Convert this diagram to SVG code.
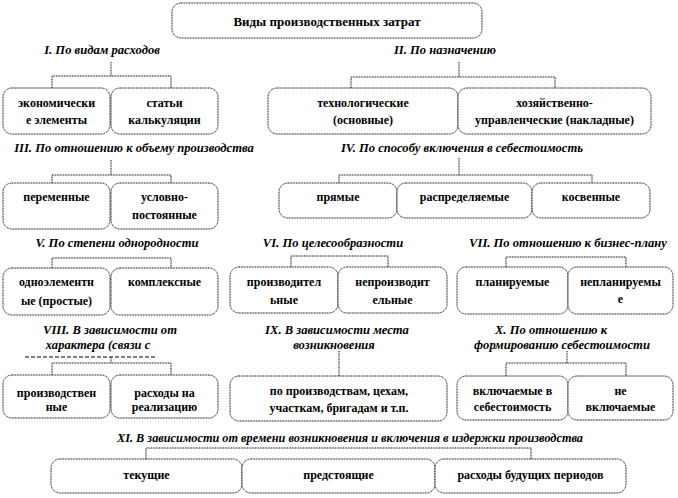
<svg xmlns="http://www.w3.org/2000/svg" width="678" height="498" viewBox="0 0 678 498">
<style>
.b{fill:#fff;stroke:#111;stroke-width:1;stroke-dasharray:1 0.6}
.c{fill:none;stroke:#111;stroke-width:1;stroke-dasharray:1 0.6}
.t{font-family:'Liberation Serif','DejaVu Serif','Times New Roman',serif;font-weight:700;font-size:12px;fill:#000;text-anchor:middle}
.h{font-family:'Liberation Serif','DejaVu Serif','Times New Roman',serif;font-weight:700;font-style:italic;font-size:12.6px;fill:#000;text-anchor:middle}
</style>
<rect width="678" height="498" fill="#fff"/>
<g id="connectors">
<path class="c" d="M111,62V76M52,88V76H171V88"/>
<path class="c" d="M459,62V77M351,88V77H555V88"/>
<path class="c" d="M111,160V175M52,183V175H171V183"/>
<path class="c" d="M459,158V175M339,183V175H592V183"/>
<path class="c" d="M52,268V258H171V268"/>
<path class="c" d="M291,267V256H388V267"/>
<path class="c" d="M506,267V257H626V267"/>
<path class="c" d="M111,357V363M52,375V363H171V375"/>
<path class="c" d="M339,351V376"/>
<path class="c" d="M567,351V363M506,376V363H626V376"/>
<path class="c" d="M146,459V448H531V459"/>
</g>
<g id="title"><rect class="b" x="172" y="3" width="310" height="35" rx="9"/><text class="t" x="327" y="26" style="font-size:13px">Виды производственных  затрат</text></g>
<g id="h1"><text class="h" x="102" y="54">I. По видам расходов</text></g>
<g id="h2"><text class="h" x="445" y="54">II. По назначению</text></g>
<g id="n1"><rect class="b" x="3" y="88" width="107" height="46" rx="9"/><text class="t" x="56.5" y="107">экономически</text><text class="t" x="56.5" y="124">е элементы</text></g>
<g id="n2"><rect class="b" x="111" y="88" width="107" height="46" rx="9"/><text class="t" x="164.5" y="107">статьи</text><text class="t" x="164.5" y="124">калькуляции</text></g>
<g id="n3"><rect class="b" x="268" y="88" width="190" height="46" rx="9"/><text class="t" x="363" y="107">технологические</text><text class="t" x="363" y="124">(основные)</text></g>
<g id="n4"><rect class="b" x="458" y="88" width="193" height="46" rx="9"/><text class="t" x="554.5" y="107">хозяйственно-</text><text class="t" x="554.5" y="124">управленческие (накладные)</text></g>
<g id="h3"><text class="h" x="134" y="152">III. По отношению к объему производства</text></g>
<g id="h4"><text class="h" x="462" y="152">IV. По способу включения в себестоимость</text></g>
<g id="n5"><rect class="b" x="3" y="183" width="107" height="46" rx="9"/><text class="t" x="56.5" y="201">переменные</text></g>
<g id="n6"><rect class="b" x="111" y="183" width="107" height="46" rx="9"/><text class="t" x="164.5" y="201">условно-</text><text class="t" x="164.5" y="219">постоянные</text></g>
<g id="n7"><rect class="b" x="279" y="183" width="118" height="35" rx="9"/><text class="t" x="338" y="201">прямые</text></g>
<g id="n8"><rect class="b" x="397" y="183" width="135" height="35" rx="9"/><text class="t" x="464.5" y="201">распределяемые</text></g>
<g id="n9"><rect class="b" x="532" y="183" width="118" height="35" rx="9"/><text class="t" x="591" y="201">косвенные</text></g>
<g id="h5"><text class="h" x="117" y="247">V. По степени однородности</text></g>
<g id="h6"><text class="h" x="333" y="247">VI. По целесообразности</text></g>
<g id="h7"><text class="h" x="568" y="247">VII. По отношению к бизнес-плану</text></g>
<g id="n10"><rect class="b" x="3" y="268" width="107" height="47" rx="9"/><text class="t" x="56.5" y="286">одноэлементн</text><text class="t" x="56.5" y="305">ые (простые)</text></g>
<g id="n11"><rect class="b" x="111" y="268" width="107" height="47" rx="9"/><text class="t" x="164.5" y="286">комплексные</text></g>
<g id="n12"><rect class="b" x="230" y="267" width="108" height="46" rx="9"/><text class="t" x="284" y="286">производител</text><text class="t" x="284" y="304">ьные</text></g>
<g id="n13"><rect class="b" x="338" y="267" width="109" height="46" rx="9"/><text class="t" x="392.5" y="286">непроизводит</text><text class="t" x="392.5" y="304">ельные</text></g>
<g id="n14"><rect class="b" x="457" y="267" width="111" height="47" rx="9"/><text class="t" x="512.5" y="286">планируемые</text></g>
<g id="n15"><rect class="b" x="568" y="267" width="105" height="47" rx="9"/><text class="t" x="620.5" y="286">непланируемы</text><text class="t" x="620.5" y="303">е</text></g>
<g id="h8"><text class="h" x="110" y="334">VIII. В зависимости от</text><text class="h" x="98" y="349">характера (связи с</text><path d="M25,357H157" fill="none" stroke="#000" stroke-width="1" stroke-dasharray="4 2"/></g>
<g id="h9"><text class="h" x="337" y="334">IX. В зависимости места</text><text class="h" x="334" y="349">возникновения</text></g>
<g id="h10"><text class="h" x="551" y="334">X. По отношению к</text><text class="h" x="562" y="349">формированию себестоимости</text></g>
<g id="n16"><rect class="b" x="3" y="375" width="107" height="43" rx="9"/><text class="t" x="56.5" y="397">производствен</text><text class="t" x="56.5" y="411">ные</text></g>
<g id="n17"><rect class="b" x="111" y="375" width="107" height="43" rx="9"/><text class="t" x="164.5" y="397">расходы на</text><text class="t" x="164.5" y="411">реализацию</text></g>
<g id="n18"><rect class="b" x="230" y="376" width="217" height="45" rx="9"/><text class="t" x="339" y="395">по производствам, цехам,</text><text class="t" x="339" y="412">участкам, бригадам и т.п.</text></g>
<g id="n19"><rect class="b" x="457" y="376" width="111" height="44" rx="9"/><text class="t" x="512.5" y="395">включаемые в</text><text class="t" x="512.5" y="411">себестоимость</text></g>
<g id="n20"><rect class="b" x="568" y="376" width="105" height="44" rx="9"/><text class="t" x="620.5" y="395">не</text><text class="t" x="620.5" y="411">включаемые</text></g>
<g id="h11"><text class="h" x="350" y="442" textLength="466" lengthAdjust="spacingAndGlyphs">XI. В зависимости от времени возникновения  и включения в издержки производства</text></g>
<g id="n21"><rect class="b" x="51" y="459" width="191" height="34" rx="9"/><text class="t" x="146.5" y="479">текущие</text></g>
<g id="n22"><rect class="b" x="242" y="459" width="193" height="34" rx="9"/><text class="t" x="338.5" y="479">предстоящие</text></g>
<g id="n23"><rect class="b" x="435" y="459" width="191" height="34" rx="9"/><text class="t" x="530.5" y="479">расходы будущих периодов</text></g>
</svg>
